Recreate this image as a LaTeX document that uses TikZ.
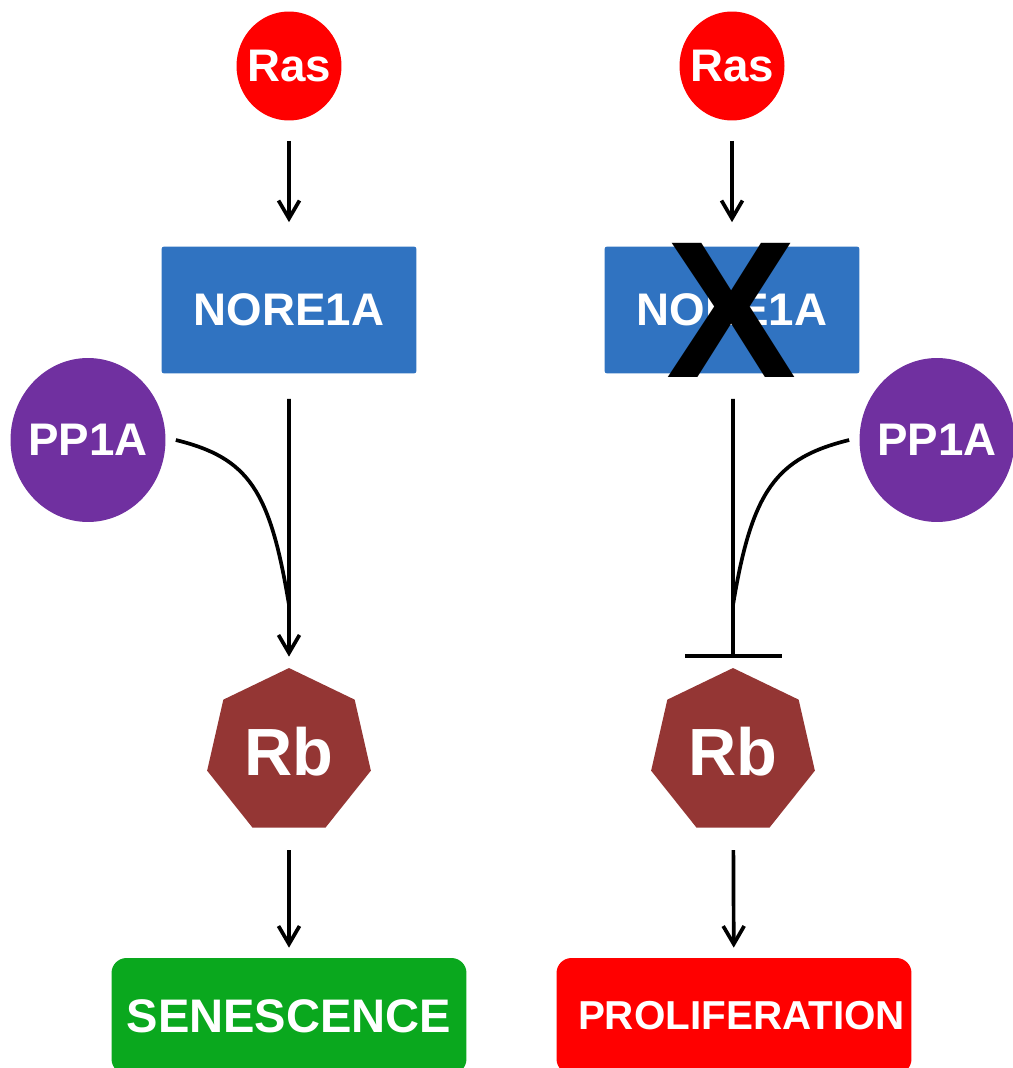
\documentclass[tikz,border=0pt]{standalone}
\usepackage{fontspec}
\setmainfont{Liberation Sans}
\usepackage{tikz}
\usetikzlibrary{shapes.geometric,arrows.meta}

\definecolor{rasred}{RGB}{255,0,0}
\definecolor{noreblue}{RGB}{48,115,193}
\definecolor{pppurple}{RGB}{112,48,160}
\definecolor{rbbrown}{RGB}{148,54,52}
\definecolor{sengreen}{RGB}{10,168,30}

\begin{document}
\begin{tikzpicture}[x=0.02cm,y=-0.02cm,
    >={Straight Barb[length=0.36cm,width=0.42cm]},
    every node/.style={text=white,font=\bfseries\fontsize{26}{30}\selectfont},
    ras/.style={ellipse,fill=rasred,inner xsep=-0.12cm,inner ysep=0pt,minimum width=2.1cm,minimum height=2.18cm},
    gene/.style={rectangle,rounded corners=1.5pt,fill=noreblue,minimum width=5.1cm,minimum height=2.54cm},
    phos/.style={ellipse,fill=pppurple,inner xsep=-0.12cm,inner ysep=0pt,minimum width=3.1cm,minimum height=3.28cm},
    rb/.style={regular polygon,regular polygon sides=7,fill=rbbrown,inner sep=0pt,minimum size=3.36cm,
      font=\bfseries\fontsize{38}{44}\selectfont},
    fate/.style={rectangle,rounded corners=0.3cm,minimum width=7.1cm,minimum height=2.32cm},
    link/.style={line width=2.1pt}]
  \useasboundingbox (0,0) rectangle (1012,1068);

  % left: Ras -> NORE1A -> Rb -> senescence
  \node[ras] (ras1) at (289,66) {Ras};
  \node[gene] (nore1) at (289,310) {NORE1A};
  \node[phos] (pp1) at (88,440) {PP1A};
  \node[rb] (rb1) at (289,752) {Rb};
  \node[fate,fill=sengreen,font=\bfseries\fontsize{26.8}{30}\selectfont] (sen) at (289,1016) {SENESCENCE};
  \coordinate (m1) at (289,605);

  \draw[link,->,shorten <=0.4cm,shorten >=0.48cm] (ras1) -- (nore1);
  \draw[link,->,shorten <=0.5cm,shorten >=0.22cm] (nore1) -- (rb1);
  \draw[link] ([xshift=0.2cm]pp1.east) .. controls +(73,18) and +(-19,-115) .. (m1);
  \draw[link,->,shorten <=0.44cm,shorten >=0.2cm] (rb1) -- (sen);

  % right: NORE1A lost, PP1A blocks Rb -> proliferation
  \node[ras] (ras2) at (732,66) {Ras};
  \node[gene] (nore2) at (732,310) {NORE1A};
  \node[text=black,font=\bfseries\fontsize{111}{120}\selectfont,inner sep=0pt] (cross) at (732,310) {X};
  \node[phos] (pp2) at (937,440) {PP1A};
  \node[rb] (rb2) at (733,752) {Rb};
  \node[fate,fill=rasred,font=\bfseries\fontsize{23}{27}\selectfont] (pro) at (734,1016) {\hspace*{0.3cm}PROLIFERATION};
  \coordinate (m2) at (733,605);

  \draw[link,->,shorten <=0.4cm,shorten >=0.48cm] (ras2) -- (nore2);
  \draw[link,-{Bar[width=1.94cm]},shorten <=0.5cm,shorten >=0.2cm] (nore2.south -| rb2) -- (rb2);
  \draw[link] ([xshift=-0.2cm]pp2.west) .. controls +(-73,18) and +(19,-115) .. (m2);
  \draw[link,->,shorten <=0.44cm,shorten >=0.2cm] (rb2) -- (pro);
\end{tikzpicture}
\end{document}
